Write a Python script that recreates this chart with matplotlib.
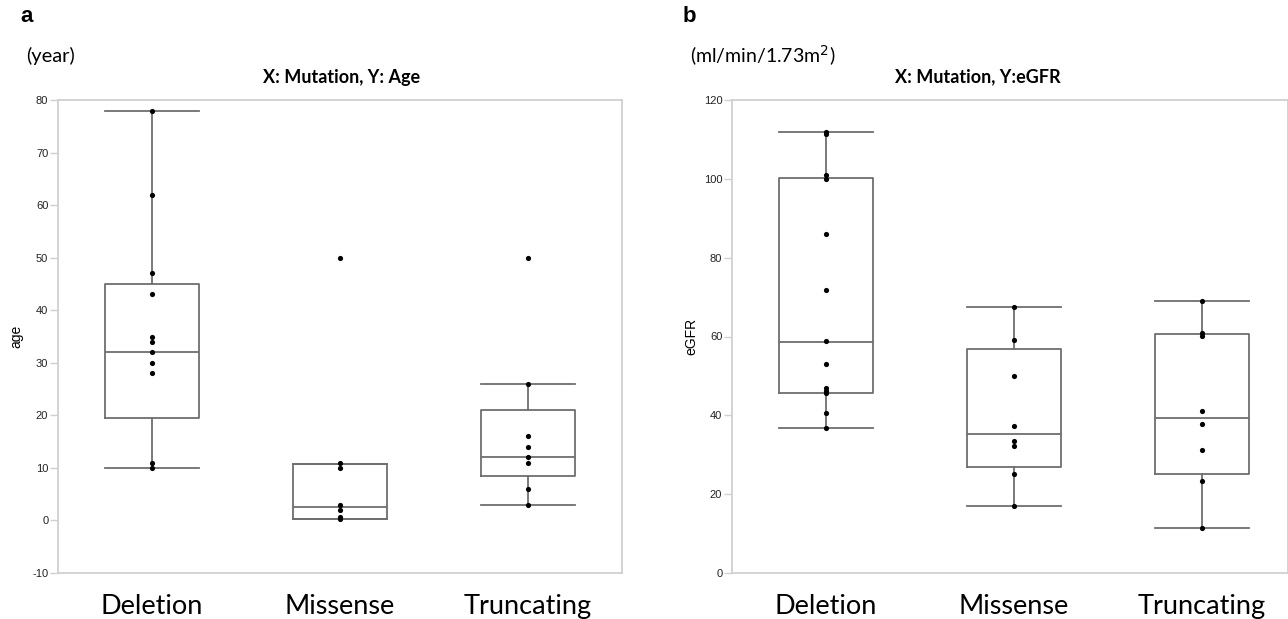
import numpy as np
import matplotlib.pyplot as plt

categories = ["Deletion", "Missense", "Truncating"]

# panel a: age (years)
age_deletion = [78, 62, 47, 43, 35, 34, 32, 30, 28, 11, 10]
age_missense = [50, 11, 10, 3, 2, 0.7, 0.2]
age_truncating = [50, 26, 16, 14, 12, 11, 6, 3]
age_q1 = [19.5, 0.35, 8.45]
age_med = [32, 2.5, 12]
age_q3 = [45, 10.75, 21]
age_lo = [10, 0.35, 3]
age_hi = [78, 10.75, 26]

# panel b: eGFR (ml/min/1.73m2)
egfr_deletion = [112, 111.5, 101, 100, 86, 71.7, 58.8, 53, 46.9, 46.2, 45.6, 40.6, 36.8]
egfr_missense = [67.5, 59, 50, 37.4, 33.4, 32.1, 25.1, 17.1]
egfr_truncating = [69.1, 61, 60.2, 41.1, 37.9, 31.1, 23.3, 11.3]
egfr_q1 = [45.6, 26.8, 25.2]
egfr_med = [58.6, 35.2, 39.4]
egfr_q3 = [100.3, 56.8, 60.7]
egfr_lo = [36.8, 17.1, 11.3]
egfr_hi = [111.8, 67.6, 69.1]

age_ticks = np.arange(-10, 81, 10)
egfr_ticks = np.arange(0, 121, 20)

TITLE_FONT = "Lato"
TICK_FONT = "Liberation Sans"
BOX_COLOR = "#6e6e6e"
SPINE_COLOR = "#d0d0d0"


def draw_panel(ax, groups, q1, med, q3, lo, hi, ticks, ylim, xlim, ylabel, lpad):
    stats = []
    for i in range(len(categories)):
        stats.append(dict(med=med[i], q1=q1[i], q3=q3[i],
                          whislo=lo[i], whishi=hi[i], fliers=[]))
    line = dict(color=BOX_COLOR, linewidth=1.3)
    ax.bxp(stats, positions=[1, 2, 3], widths=0.5, capwidths=0.5,
           showfliers=False, boxprops=line, whiskerprops=line,
           capprops=line, medianprops=line)
    for i, vals in enumerate(groups):
        ax.scatter(np.full(len(vals), i + 1), vals, s=14, color="black",
                   zorder=3, linewidths=0)
    ax.set_ylim(ylim)
    ax.set_xlim(xlim)
    ax.set_yticks(ticks)
    ax.set_yticklabels([str(t) for t in ticks], fontsize=8,
                       fontfamily=TICK_FONT, color="#222222")
    ax.tick_params(axis="y", length=6, width=1, color=SPINE_COLOR, pad=1)
    ax.set_xticks([1, 2, 3])
    ax.set_xticklabels(categories, fontsize=19.5, fontfamily=TITLE_FONT)
    ax.tick_params(axis="x", length=0, pad=15)
    for s in ax.spines.values():
        s.set_color(SPINE_COLOR)
        s.set_linewidth(1.3)
    ax.set_ylabel(ylabel, fontsize=10, fontfamily=TICK_FONT, labelpad=lpad)


fig = plt.figure(figsize=(12.88, 6.19), dpi=100)

ax1 = fig.add_axes([58 / 1288, 1 - 573 / 619, 564 / 1288, 473 / 619])
draw_panel(ax1, [age_deletion, age_missense, age_truncating],
           age_q1, age_med, age_q3, age_lo, age_hi,
           age_ticks, (-10, 80), (0.5, 3.5), "age", 6)

ax2 = fig.add_axes([732 / 1288, 1 - 573 / 619, 556 / 1288, 473 / 619])
draw_panel(ax2, [egfr_deletion, egfr_missense, egfr_truncating],
           egfr_q1, egfr_med, egfr_q3, egfr_lo, egfr_hi,
           egfr_ticks, (0, 120), (0.5, 3.46), "eGFR", 4)

fig.text(20 / 1288, 1 - 16 / 619, "a", fontsize=16, fontweight="bold",
         fontfamily=TICK_FONT, va="center")
fig.text(683 / 1288, 1 - 16 / 619, "b", fontsize=16, fontweight="bold",
         fontfamily=TICK_FONT, va="center")
fig.text(26 / 1288, 1 - 56 / 619, "(year)", fontsize=14.5,
         fontfamily=TITLE_FONT, va="center")
fig.text(690 / 1288, 1 - 56 / 619, "(ml/min/1.73m$^2$)", fontsize=14,
         fontfamily=TITLE_FONT, va="center")
fig.text(342 / 1288, 1 - 77 / 619, "X: Mutation, Y: Age", fontsize=13,
         fontweight="bold", fontfamily=TITLE_FONT, ha="center", va="center")
fig.text(978 / 1288, 1 - 77 / 619, "X: Mutation, Y:eGFR", fontsize=13,
         fontweight="bold", fontfamily=TITLE_FONT, ha="center", va="center")

fig.savefig("out.png", dpi=100)
